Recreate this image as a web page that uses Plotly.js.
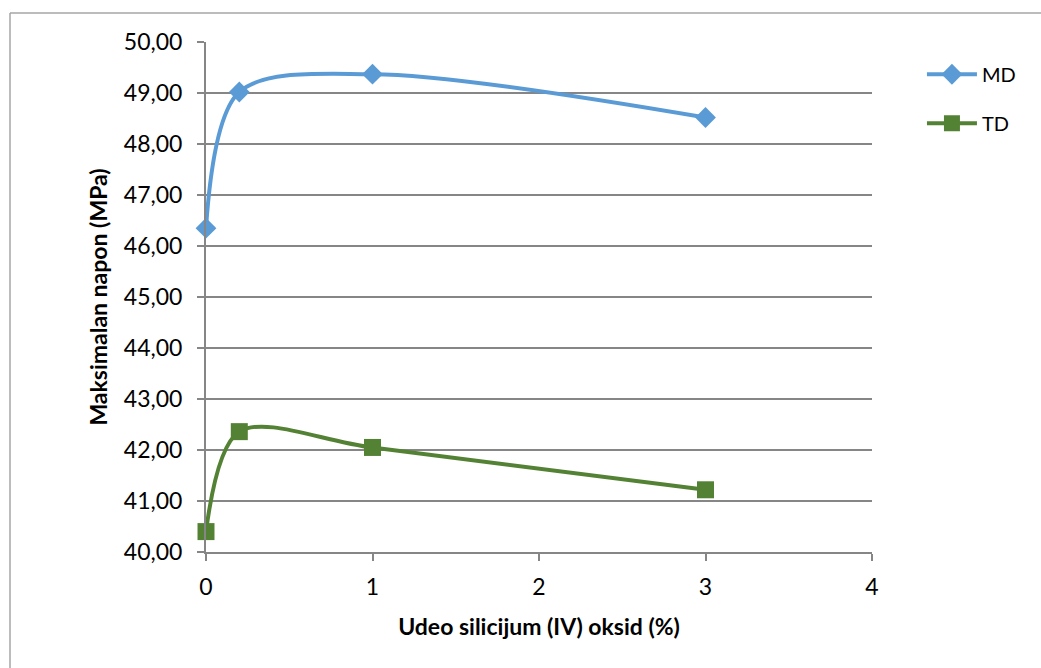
<!DOCTYPE html>
<html>
<head>
<meta charset="utf-8">
<script src="https://cdn.plot.ly/plotly-3.0.1.min.js"></script>
<style>html,body{margin:0;padding:0;background:#fff;}#chart{width:1041px;height:668px;}</style>
</head>
<body>
<div id="chart"></div>
<script>
const xValues = [0, 0.2, 1, 3];
const mdValues = [46.35, 49.02, 49.37, 48.52];
const tdValues = [40.40, 42.36, 42.05, 41.22];
const seriesNames = ["MD", "TD"];
const yTickVals = [40, 41, 42, 43, 44, 45, 46, 47, 48, 49, 50];
const yTickText = ["40,00","41,00","42,00","43,00","44,00","45,00","46,00","47,00","48,00","49,00","50,00"];
const xTickVals = [0, 1, 2, 3, 4];

const FONT = "Lato, 'Open Sans', sans-serif";
const traces = [
  {x: xValues, y: mdValues, name: seriesNames[0], legendgroup: "g1", type: "scatter", mode: "lines+markers", cliponaxis: false,
   line: {color: "#5B9BD5", width: 4, shape: "spline", smoothing: 0.9},
   marker: {symbol: "diamond", size: 16, color: "#5B9BD5"}},
  {x: xValues, y: tdValues, name: seriesNames[1], legendgroup: "g2", type: "scatter", mode: "lines+markers", cliponaxis: false,
   line: {color: "#548235", width: 4, shape: "spline", smoothing: 0.9},
   marker: {symbol: "square", size: 17, color: "#548235"}}
];
const axisColor = "#868686";
const layout = {
  width: 1041, height: 668,
  margin: {l: 206, r: 169, t: 42, b: 116, pad: 0},
  paper_bgcolor: "#fff", plot_bgcolor: "#fff",
  font: {family: FONT, size: 23, color: "#000"},
  showlegend: true,
  legend: {x: 1.075, y: 0.975, xanchor: "left", yanchor: "top", font: {family: FONT, size: 20, color: "#000"},
           traceorder: "grouped", tracegroupgap: 20, itemwidth: 50, bgcolor: "rgba(0,0,0,0)"},
  xaxis: {range: [0, 4], tickvals: xTickVals, ticks: "outside", ticklen: 7, tickcolor: axisColor, tickwidth: 2,
          showline: true, linecolor: axisColor, linewidth: 2, showgrid: false, zeroline: false,
          tickfont: {family: FONT, size: 23}, ticklabelstandoff: 6,
          title: {text: "<b>Udeo silicijum (IV) oksid (%)</b>", font: {family: FONT, size: 23}, standoff: 20}},
  yaxis: {range: [40, 50], tickvals: yTickVals, ticktext: yTickText, ticks: "outside", ticklen: 7, tickcolor: axisColor, tickwidth: 2,
          showline: true, linecolor: axisColor, linewidth: 2, showgrid: true, gridcolor: axisColor, gridwidth: 1.5, zeroline: false,
          tickfont: {family: FONT, size: 23}, ticklabelstandoff: 10,
          title: {text: "<b>Maksimalan napon (MPa)</b>", font: {family: FONT, size: 23}, standoff: 10}},
  shapes: [
    {type: "line", xref: "paper", yref: "paper", x0: -0.2943, x1: -0.2943, y0: 1.0569, y1: -0.3, line: {color: "#a6a6a6", width: 1.5}},
    {type: "line", xref: "paper", yref: "paper", x0: -0.2943, x1: 1.3, y0: 1.0569, y1: 1.0569, line: {color: "#a6a6a6", width: 1.5}}
  ]
};
Plotly.newPlot("chart", traces, layout, {displayModeBar: false, staticPlot: true});
</script>
</body>
</html>
